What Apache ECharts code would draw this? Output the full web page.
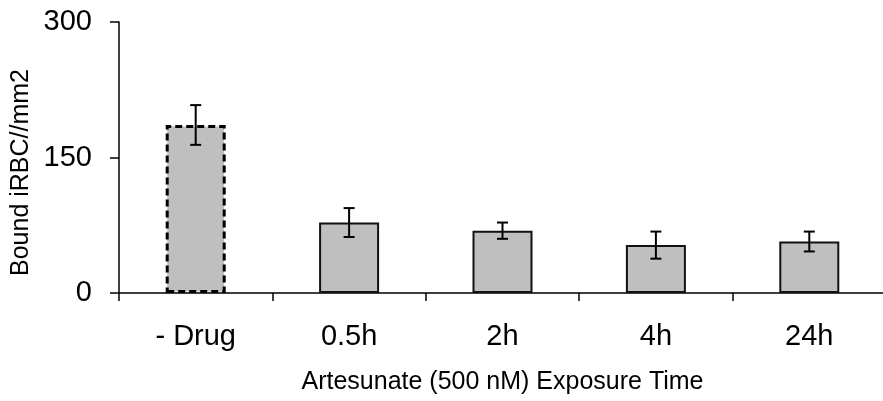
<!DOCTYPE html>
<html>
<head>
<meta charset="utf-8">
<script src="https://cdn.jsdelivr.net/npm/echarts@6/dist/echarts.min.js"></script>
<style>
html,body{margin:0;padding:0;background:#fff;}
#chart{width:883px;height:401px;}
</style>
</head>
<body>
<div id="chart"></div>
<script>
var categories = ['- Drug', '0.5h', '2h', '4h', '24h'];
var values = [186, 78, 69, 53, 57];
var errors = [22, 16, 9, 15, 11];
var yTicks = [0, 150, 300];
var xAxisTitle = 'Artesunate (500 nM) Exposure Time';
var yAxisTitle = 'Bound iRBC//mm2';

var FONT = '"Liberation Sans", Arial, sans-serif';

var barData = values.map(function (v, i) {
  if (i === 0) {
    return {
      value: v,
      itemStyle: { borderType: [7, 4], borderWidth: 3, borderColor: '#000' }
    };
  }
  return v;
});

var errData = values.map(function (v, i) {
  return [i, v - errors[i], v + errors[i]];
});

var chart = echarts.init(document.getElementById('chart'), null, { renderer: 'canvas' });
chart.setOption({
  animation: false,
  backgroundColor: '#fff',
  grid: { left: 119, top: 22, width: 767, bottom: 108, containLabel: false, outerBoundsMode: 'none' },
  xAxis: {
    type: 'category',
    data: categories,
    boundaryGap: true,
    axisLine: { lineStyle: { color: '#000', width: 1.5 } },
    axisTick: { show: true, length: 8, lineStyle: { color: '#000', width: 1.5 }, alignWithLabel: false },
    axisLabel: { color: '#000', fontFamily: FONT, fontSize: 29, margin: 29, interval: 0 },
    name: xAxisTitle,
    nameLocation: 'middle',
    nameGap: 77,
    nameMoveOverlap: false,
    nameTextStyle: { color: '#000', fontFamily: FONT, fontSize: 25 },
    splitLine: { show: false }
  },
  yAxis: {
    type: 'value',
    min: yTicks[0],
    max: yTicks[yTicks.length - 1],
    interval: yTicks[1] - yTicks[0],
    axisLine: { show: true, lineStyle: { color: '#000', width: 1.5 } },
    axisTick: { show: true, length: 9, lineStyle: { color: '#000', width: 1.5 } },
    axisLabel: { color: '#000', fontFamily: FONT, fontSize: 29, margin: 27 },
    splitLine: { show: false },
    name: yAxisTitle,
    nameLocation: 'middle',
    nameRotate: 90,
    nameGap: 85,
    nameMoveOverlap: false,
    nameTextStyle: { color: '#000', fontFamily: FONT, fontSize: 25, padding: [0, 30, 0, 0] }
  },
  series: [
    {
      type: 'bar',
      data: barData,
      barWidth: 60,
      itemStyle: { color: '#bfbfbf', borderColor: '#111', borderWidth: 2 },
      z: 2
    },
    {
      type: 'custom',
      data: errData,
      z: 5,
      renderItem: function (params, api) {
        var x = api.value(0);
        var lo = api.coord([x, api.value(1)]);
        var hi = api.coord([x, api.value(2)]);
        var half = 5.5;
        var style = { stroke: '#000', lineWidth: 2 };
        return {
          type: 'group',
          children: [
            { type: 'line', shape: { x1: hi[0], y1: hi[1], x2: lo[0], y2: lo[1] }, style: style },
            { type: 'line', shape: { x1: hi[0] - half, y1: hi[1], x2: hi[0] + half, y2: hi[1] }, style: style },
            { type: 'line', shape: { x1: lo[0] - half, y1: lo[1], x2: lo[0] + half, y2: lo[1] }, style: style }
          ]
        };
      }
    }
  ]
});
</script>
</body>
</html>
